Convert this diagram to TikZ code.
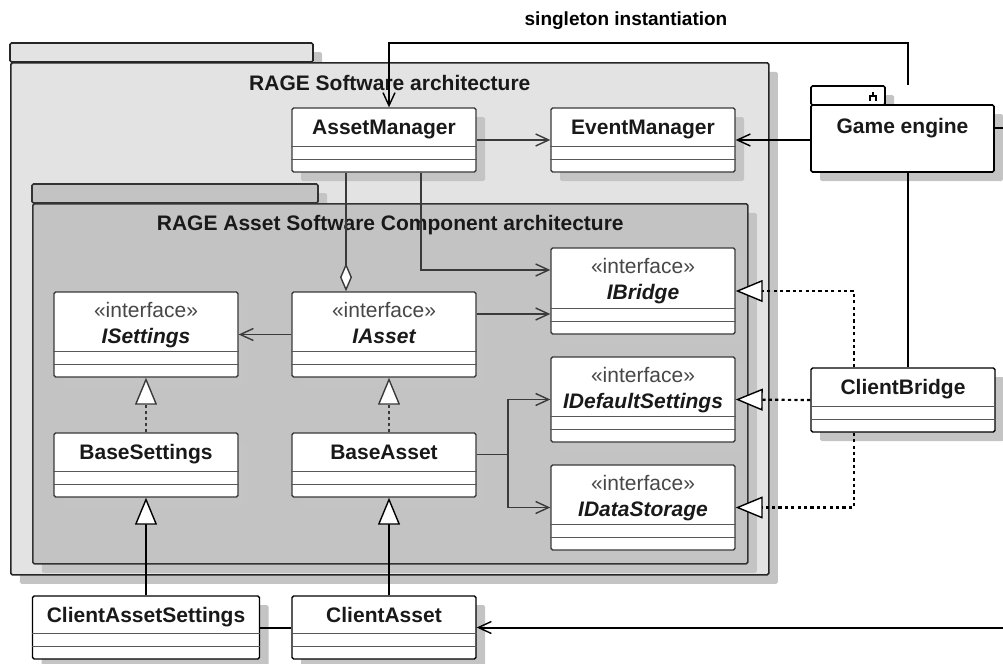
\documentclass[tikz,border=0pt]{standalone}
\usepackage{fontspec}
\setmainfont{Liberation Sans}
\usetikzlibrary{arrows.meta,shadows}

\definecolor{outerfill}{HTML}{E3E3E3}
\definecolor{innerfill}{HTML}{C3C3C3}
\definecolor{shadefill}{HTML}{C4C4C4}
\definecolor{linegray}{HTML}{3A3A3A}
\definecolor{stereogray}{HTML}{474747}

\begin{document}
\begin{tikzpicture}[x=0.5pt, y=-0.5pt, font=\fontsize{10.5}{13}\selectfont,
  boxshadow/.style={drop shadow={shadow xshift=4.5pt, shadow yshift=-4.5pt, fill=shadefill, opacity=1}},
  pkg/.style={draw=black!85, line width=0.8pt, rounded corners=0.8pt, inner sep=0pt, boxshadow},
  cls/.style={draw=linegray, fill=white, line width=0.7pt, rounded corners=0.8pt, inner sep=0pt,
    minimum width=92pt, minimum height=32pt, boxshadow},
  iface/.style={cls, minimum height=42.5pt},
  hdr/.style={anchor=north, inner sep=0pt, yshift=-6pt, text=black!90, font=\fontsize{10.5}{13}\selectfont\bfseries},
  ihdr/.style={hdr, align=center, yshift=0.5pt},
  cline/.style={draw=linegray!85, line width=0.6pt},
  link/.style={draw=linegray, line width=0.7pt},
  ext/.style={draw=black, line width=1pt},
  open tip/.style={-{Straight Barb[length=6.5pt, width=6pt, line width=0.7pt]}},
  gen tip/.style={-{Triangle[fill=white, length=13.5pt, width=11pt, line width=0.7pt]}},
  agg tip/.style={-{Diamond[fill=white, length=14pt, width=6pt, line width=0.7pt]}},
  real/.style={link, gen tip, dash pattern=on 1.5pt off 1.5pt},
  impl/.style={draw=black, line width=1.1pt, gen tip, dash pattern=on 1.6pt off 1.6pt}
]
\useasboundingbox (0,0) rectangle (1003,664);

% packages
\draw[pkg, fill=outerfill] (10,43) rectangle (313,62);
\node[pkg, fill=outerfill, anchor=north west, minimum width=379pt, minimum height=256pt,
  label={[hdr, yshift=-0.5pt]north:RAGE Software architecture}] (rage) at (10,62) {};
\draw[pkg, fill=innerfill, draw=black!80] (32,184) rectangle (318,203);
\node[pkg, fill=innerfill, draw=black!80, anchor=north west, minimum width=357.5pt, minimum height=180pt,
  label={[hdr]north:RAGE Asset Software Component architecture}] (asc) at (32,203) {};

% game engine
\draw[pkg, fill=white, draw=black] (811,86) rectangle (885,105);
\draw[line width=0.6pt] (873,92) -- (873,96) (870,101) -- (870,96) -- (876,96) -- (876,101);
\node[cls, draw=black, line width=0.8pt, minimum width=91.5pt, minimum height=33.5pt,
  label={[hdr, yshift=-1pt]north:Game engine}] (ge) at (902.5,138.5) {};

% classes
\node[cls, label={[hdr]north:AssetManager}] (am) at (384,140) {};
\node[cls, label={[hdr]north:EventManager}] (em) at (643,140) {};
\node[iface, label={[ihdr]north:{{\mdseries\color{stereogray}«interface»}\\\itshape ISettings}}] (is) at (146,334.5) {};
\node[iface, label={[ihdr]north:{{\mdseries\color{stereogray}«interface»}\\\itshape IAsset}}] (ia) at (384,334.5) {};
\node[iface, minimum height=43pt, label={[ihdr]north:{{\mdseries\color{stereogray}«interface»}\\\itshape IBridge}}] (ib) at (643,291) {};
\node[iface, label={[ihdr]north:{{\mdseries\color{stereogray}«interface»}\\\itshape IDefaultSettings}}] (ids) at (643,399.5) {};
\node[iface, label={[ihdr]north:{{\mdseries\color{stereogray}«interface»}\\\itshape IDataStorage}}] (idst) at (643,507.5) {};
\node[cls, label={[hdr]north:BaseSettings}] (bs) at (146,465) {};
\node[cls, label={[hdr]north:BaseAsset}] (ba) at (384,465) {};
\node[cls, draw=black, label={[hdr]north:ClientBridge}] (cb) at (903,400) {};
\node[cls, draw=black, minimum width=113.5pt, minimum height=31.5pt,
  label={[hdr]north:ClientAssetSettings}] (cas) at (146,627.5) {};
\node[cls, draw=black, minimum height=31.5pt, label={[hdr]north:ClientAsset}] (ca) at (384,627.5) {};

\foreach \c in {am,em,is,ia,ib,ids,idst,bs,ba,cb,cas,ca}
  \draw[cline] ([yshift=6.5pt]\c.south west) -- ([yshift=6.5pt]\c.south east)
               ([yshift=13pt]\c.south west) -- ([yshift=13pt]\c.south east);

% links inside the packages
\draw[link, open tip] (am.east) -- (em.west);
\draw[link, agg tip] ([xshift=-19pt]am.south) -- ([xshift=-19pt]ia.north);
\draw[link, open tip] ([xshift=18.5pt]am.south) |- ([yshift=10.5pt]ib.west);
\draw[link, open tip] ([yshift=10.25pt]ia.east) -- ([yshift=-11.5pt]ib.west);
\draw[link, open tip] (ia.west) -- (is.east);
\draw[real] (bs.north) -- (is.south);
\draw[real] ([xshift=2.5pt]ba.north) -- ([xshift=2.5pt]ia.south);
\coordinate (fork) at (508,454.5);
\draw[link] (ba.east |- fork) -- (fork);
\draw[link, open tip] (fork) |- (ids.west);
\draw[link, open tip] (fork) |- (idst.west);

% links from outside
\coordinate (top) at (640,43);
\draw[ext, open tip] ([xshift=2.75pt, yshift=9.5pt]ge.north) |- (top) -| ([xshift=2.5pt]am.north);
\node[font=\fontsize{9.5}{11}\selectfont\bfseries] (single) at (626,21) {singleton instantiation};
\draw[ext, open tip] (ge.west |- em.east) -- (em.east);
\coordinate (geout) at (1003,128);
\draw[ext] (ge.east |- geout) -- (geout);
\coordinate (gelink) at ([xshift=2.75pt]ge.south);
\draw[ext] (gelink) -- (gelink |- cb.north);
\draw[impl] ([xshift=-24.5pt]cb.north) |- (ib.east);
\draw[impl] (cb.west) -- (ids.east);
\draw[impl] ([xshift=-24.5pt]cb.south) |- (idst.east);
\draw[ext, gen tip] (cas.north) -- (bs.south);
\draw[ext, gen tip] ([xshift=2.5pt]ca.north) -- ([xshift=2.5pt]ba.south);
\draw[ext] (cas.east) -- (ca.west);
\coordinate (caout) at (1003,627.5);
\draw[ext, open tip] (caout) -- (ca.east);
\end{tikzpicture}
\end{document}
